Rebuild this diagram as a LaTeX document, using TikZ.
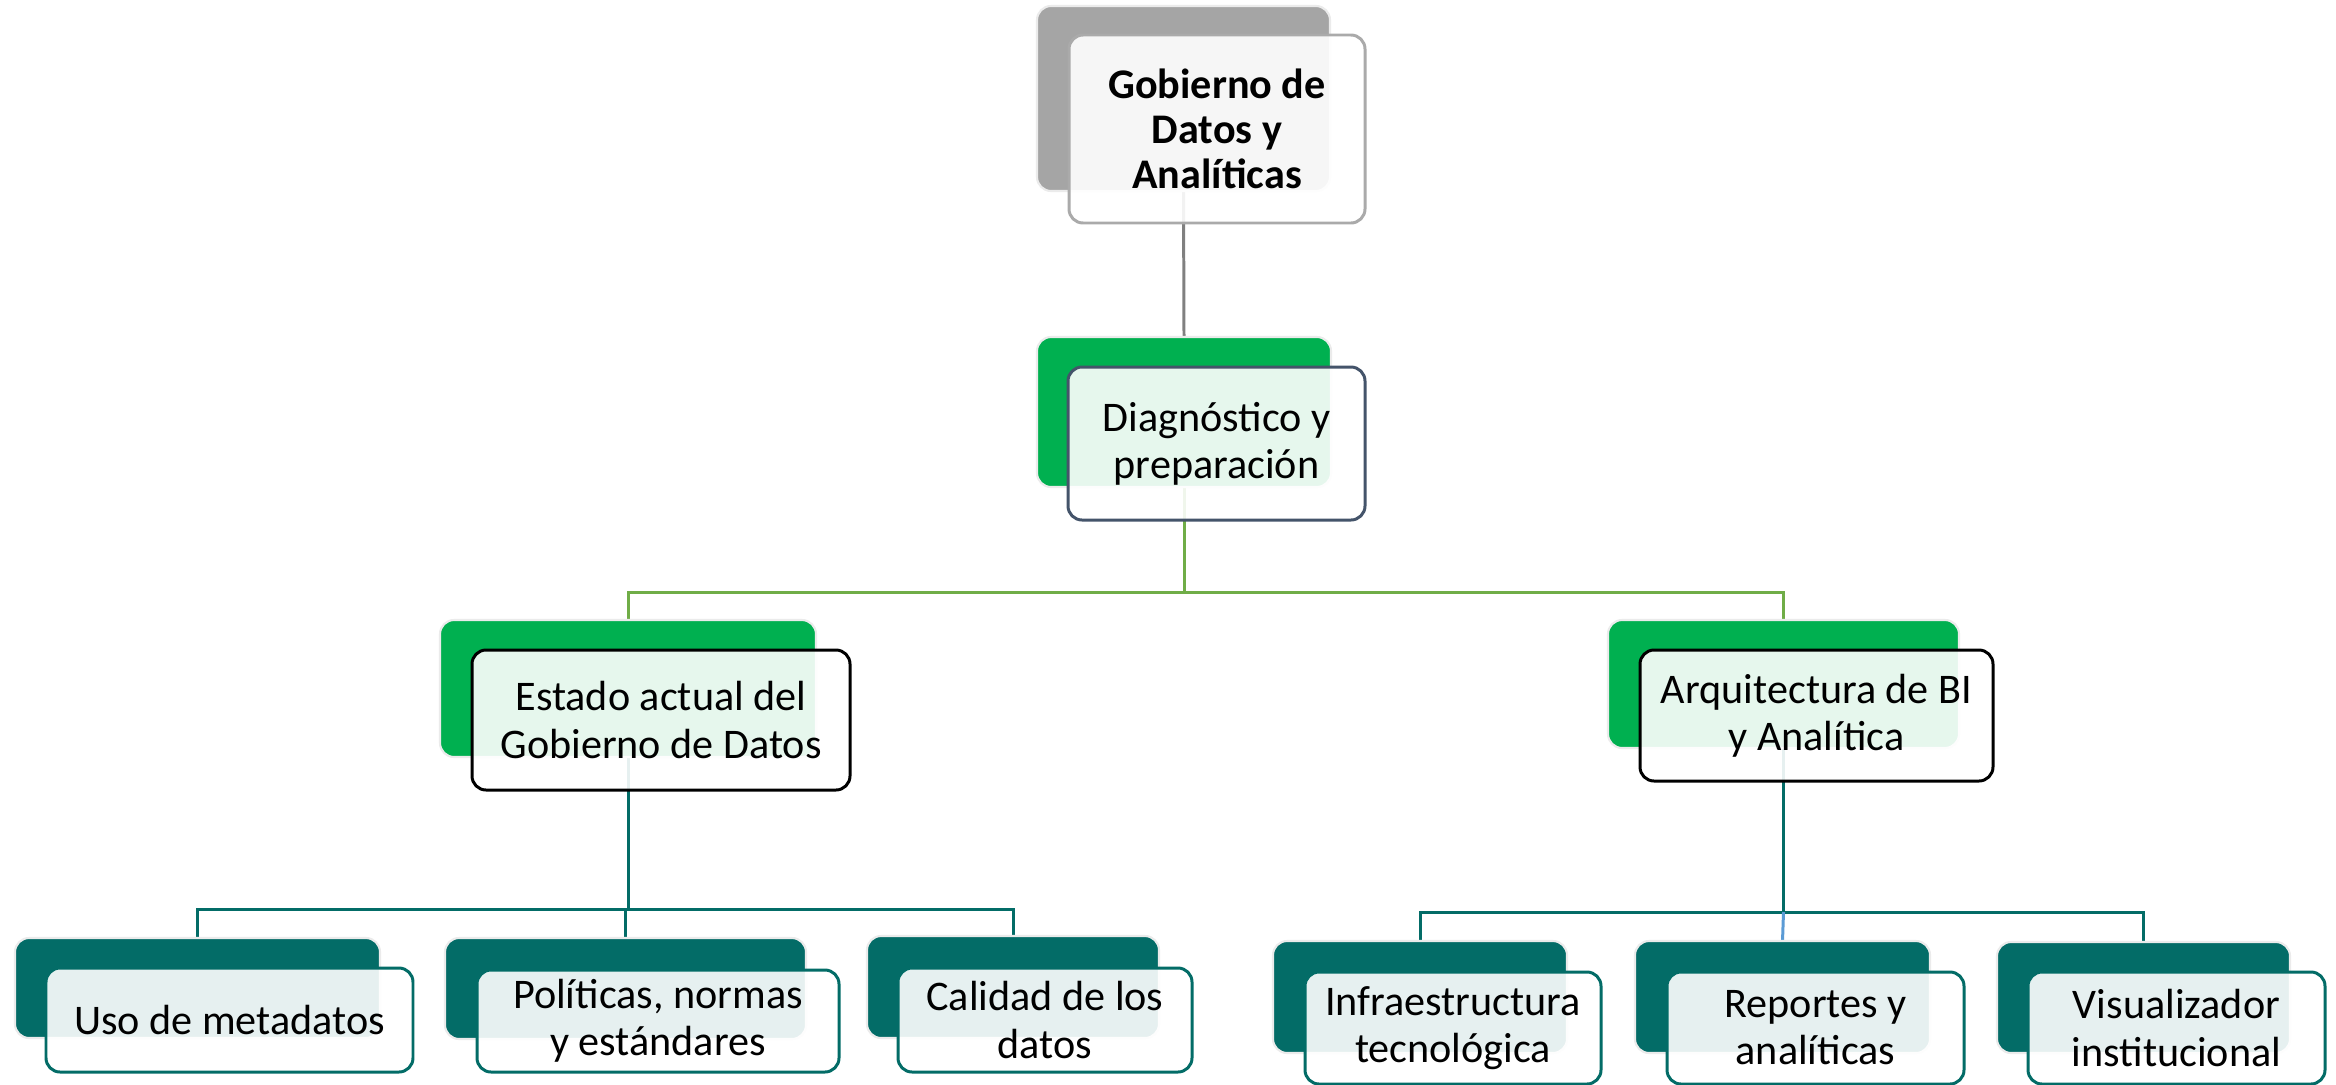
\documentclass[tikz,border=0pt]{standalone}
\usepackage{fontspec}
\setmainfont{Carlito}
\usepackage{tikz}
\usetikzlibrary{positioning,backgrounds}
\definecolor{topgray}{RGB}{165,165,165}
\definecolor{edgegray}{RGB}{170,170,170}
\definecolor{linegray}{RGB}{128,128,128}
\definecolor{boxgreen}{RGB}{0,176,80}
\definecolor{linegreen}{RGB}{112,173,71}
\definecolor{slate}{RGB}{68,84,106}
\definecolor{darkteal}{RGB}{3,108,103}
\definecolor{lineblue}{RGB}{91,155,213}

\begin{document}
\begin{tikzpicture}[x=0.1mm,y=-0.1mm,
  every node/.style={inner sep=0pt, outer sep=0pt, rounded corners=4pt},
  back/.style={fill=#1, draw=black!8, line width=0.6pt},
  front/.style={fill=white, fill opacity=0.9, text opacity=1, draw=#1, line width=0.85pt,
    align=center, font=\fontsize{12}{13.4}\selectfont},
  link/.style={draw=#1, line width=0.85pt}]
\useasboundingbox (0,0) rectangle (2336,1084);

% Top box
\node[back=topgray, minimum width=29.3mm, minimum height=18.5mm] (topB) at (1183.5,98.5) {};
\node[front=edgegray, minimum width=29.6mm, minimum height=18.8mm,
  font=\bfseries\fontsize{12}{12.8}\selectfont] (top) at (1217,129) {Gobierno de\\Datos y\\Analíticas};

% Second level
\node[back=boxgreen, minimum width=29.4mm, minimum height=15mm] (diagB) at (1184,412) {};
\node[front=slate, minimum width=29.7mm, minimum height=15.3mm] (diag) at (1216.5,443.5) {Diagnóstico y\\preparación};

% Third level left to right
\node[back=boxgreen, minimum width=37.6mm, minimum height=13.7mm] (estB) at (628,688.5) {};
\node[front=black, minimum width=37.8mm, minimum height=14mm] (est) at (661,720) {Estado actual del\\Gobierno de Datos};

\node[back=boxgreen, minimum width=35.1mm, minimum height=12.8mm] (arqB) at (1783.5,684) {};
\node[front=black, minimum width=35.3mm, minimum height=13.1mm] (arq) at (1816.5,715.5) {Arquitectura de BI\\y Analítica};

% Fourth level left to right
\node[back=darkteal, minimum width=36.5mm, minimum height=10mm] (usoB) at (197.5,988) {};
\node[front=darkteal, minimum width=36.7mm, minimum height=10.4mm] (uso) at (229.5,1020) {Uso de metadatos};

\node[back=darkteal, minimum width=36.1mm, minimum height=10.1mm] (polB) at (625.5,988.5) {};
\node[front=darkteal, minimum width=36.2mm, minimum height=10.2mm] (pol) at (658,1021) {Políticas, normas\\y estándares};

\node[back=darkteal, minimum width=29.2mm, minimum height=10.2mm] (calB) at (1013,987) {};
\node[front=darkteal, minimum width=29.4mm, minimum height=10.4mm] (cal) at (1045,1020) {Calidad de los\\datos};

\node[back=darkteal, minimum width=29.4mm, minimum height=11.2mm] (infB) at (1420,997) {};
\node[front=darkteal, minimum width=29.6mm, minimum height=11.2mm] (inf) at (1453,1028) {Infraestructura\\tecnológica};

\node[back=darkteal, minimum width=29.5mm, minimum height=11.2mm] (repB) at (1782.5,997) {};
\node[front=darkteal, minimum width=29.7mm, minimum height=11.2mm] (rep) at (1815.5,1028) {Reportes y\\analíticas};

\node[back=darkteal, minimum width=29.3mm, minimum height=11.1mm] (visB) at (2143.5,997.5) {};
\node[front=darkteal, minimum width=29.7mm, minimum height=11.2mm] (vis) at (2176.5,1028) {Visualizador\\institucional};

% Connectors behind the boxes
\begin{scope}[on background layer]
\fill[white] (0,0) rectangle (2336,1084);
\draw[link=linegray] (topB.south) -- (diagB.north);

\path (diagB.south) ++(0,105) coordinate (bus1);
\draw[link=linegreen] (diagB.south) -- (bus1);
\draw[link=linegreen] (estB.north) |- (bus1) -| (arqB.north);

\path (estB.south) ++(0,152) coordinate (bus2);
\draw[link=darkteal] (estB.south) -- (bus2);
\draw[link=darkteal] (usoB.north) |- (bus2) -| (calB.north);
\draw[link=darkteal] (polB.north) -- (polB.north |- bus2);

\path (arqB.south) ++(0,164) coordinate (bus3);
\draw[link=darkteal] (arqB.south) -- (bus3);
\draw[link=darkteal] (infB.north) |- (bus3) -| (visB.north);
\draw[link=lineblue] (bus3) -- (repB.north);
\end{scope}
\end{tikzpicture}
\end{document}
